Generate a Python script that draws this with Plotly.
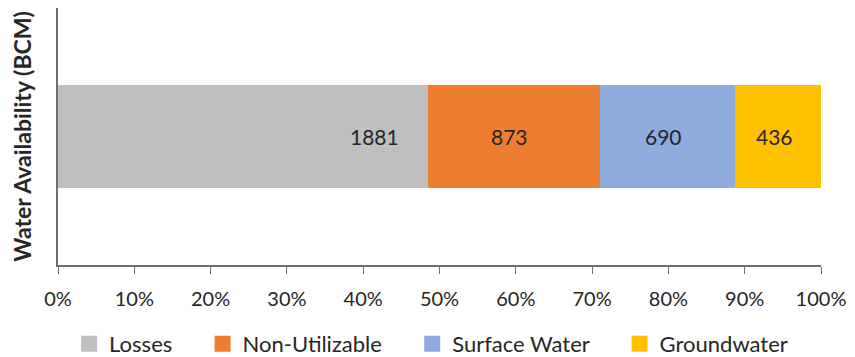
import plotly.graph_objects as go
import numpy as np

categories = ["Losses", "Non-Utilizable", "Surface Water", "Groundwater"]
values = [1881, 873, 690, 436]
colors = ["#BFBFBF", "#ED7D31", "#8FAADC", "#FFC000"]
tick_vals = [0, 10, 20, 30, 40, 50, 60, 70, 80, 90, 100]
tick_text = [f"{v}%" for v in tick_vals]
y_title = "Water Availability (BCM)"

FONT = "Lato, 'Open Sans', sans-serif"
TXT = "#262626"
AX = "#6E6E6E"
fig = go.Figure()
for name, v, c in zip(categories, values, colors):
    fig.add_trace(go.Bar(y=["W"], x=[v], name=name, orientation="h", showlegend=False,
                         marker=dict(color=c, line=dict(width=0)), width=0.4))
# legend-only entries with larger square swatches
for i, (name, c) in enumerate(zip(categories, colors)):
    pad = "\u00a0" * 4 + "\u2009" if i < len(categories) - 1 else ""
    fig.add_trace(go.Scatter(x=[None], y=[None], mode="markers", name=name + pad,
                             marker=dict(symbol="square", size=16, color=c),
                             showlegend=True))

vals = np.array(values, dtype=float)
pct = vals / vals.sum() * 100
cum = np.cumsum(pct)
starts = cum - pct
for i, v in enumerate(values):
    if i == 0:
        fig.add_annotation(x=cum[i], y="W", text=str(v), showarrow=False,
                           xanchor="right", xshift=-27,
                           font=dict(family=FONT, size=21, color=TXT))
    else:
        fig.add_annotation(x=starts[i] + pct[i] / 2, y="W", text=str(v), showarrow=False,
                           xanchor="center", xshift=-4,
                           font=dict(family=FONT, size=21, color=TXT))

fig.update_layout(
    barmode="stack", barnorm="percent",
    width=855, height=357,
    margin=dict(l=58, r=34, t=8, b=92, autoexpand=False),
    plot_bgcolor="white", paper_bgcolor="white",
    font=dict(family=FONT, size=20, color=TXT),
    showlegend=True,
    legend=dict(orientation="h", x=0.489, xanchor="center", y=-0.307, yanchor="middle",
                font=dict(family=FONT, size=22, color=TXT),
                itemwidth=30, traceorder="normal", tracegroupgap=0),
)
fig.update_xaxes(range=[0, 100], tickvals=tick_vals, ticktext=tick_text,
                 showgrid=False, zeroline=False, showline=True, linecolor=AX,
                 linewidth=1.5, ticks="outside", ticklen=7, tickcolor=AX,
                 ticklabelstandoff=8,
                 tickfont=dict(family=FONT, size=20, color=TXT))
fig.update_yaxes(range=[-0.5, 0.5], showticklabels=False, showgrid=False, zeroline=False,
                 showline=True, linecolor=AX, linewidth=1.5,
                 title=dict(text=f"<b>{y_title}</b>", standoff=18,
                            font=dict(family=FONT, size=23, color=TXT)))

fig.write_html("out.html")
